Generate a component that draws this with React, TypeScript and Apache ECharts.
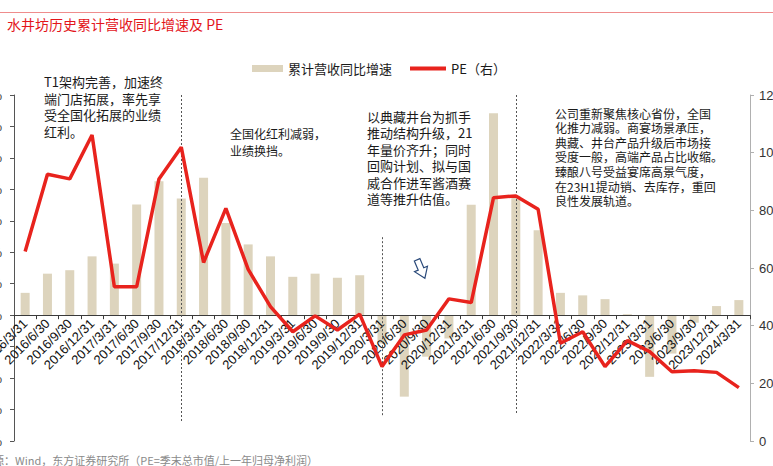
import React, { useEffect, useRef } from "react";
import * as echarts from "echarts";

const categories = [
  "2016/3/31", "2016/6/30", "2016/9/30", "2016/12/31",
  "2017/3/31", "2017/6/30", "2017/9/30", "2017/12/31",
  "2018/3/31", "2018/6/30", "2018/9/30", "2018/12/31",
  "2019/3/31", "2019/6/30", "2019/9/30", "2019/12/31",
  "2020/3/31", "2020/6/30", "2020/9/30", "2020/12/31",
  "2021/3/31", "2021/6/30", "2021/9/30", "2021/12/31",
  "2022/3/31", "2022/6/30", "2022/9/30", "2022/12/31",
  "2023/3/31", "2023/6/30", "2023/9/30", "2023/12/31",
  "2024/3/31",
];

const revenueGrowth = [
  7.1, 13.2, 14.3, 18.7,
  16.4, 35.2, 42.6, 37.1,
  43.7, 29.3, 22.5, 18.7,
  12.2, 13.2, 11.9, 12.7,
  -9.0, -25.9, -13.2, -7.4,
  35.1, 64.2, 38.0, 27.0,
  7.1, 6.3, 5.1, 0.3,
  -19.6, -12.2, -2.4, 2.9,
  4.8,
];

const peValues = [
  65.7, 92.5, 90.9, 106.1,
  53.5, 53.5, 90.9, 101.9,
  61.9, 80.7, 59.5, 46.6,
  37.9, 43.4, 38.5, 44.0,
  25.8, 36.8, 38.5, 49.3,
  48.0, 84.4, 85.0, 80.4,
  33.9, 37.9, 25.8, 34.8,
  31.0, 24.0, 24.4, 23.8,
  18.5,
];

const leftMin = -40;
const leftMax = 70;

// dotted divider lines: [category, top value, bottom value] on the left axis
const dividers: [string, number, number][] = [
  ["2017/12/31", 70, -34],
  ["2020/3/31", 24.8, -32.4],
  ["2021/9/30", 70, -31.7],
];

const seriesNames = ["累计营收同比增速", "PE（右）"];

const titleText = "水井坊历史累计营收同比增速及 PE";
const sourceText = "资料来源：Wind，东方证券研究所（PE=季末总市值/上一年归母净利润）";

const note1 = ["T1架构完善，加速终", "端门店拓展，率先享", "受全国化拓展的业绩", "红利。"];
const note2 = ["全国化红利减弱，", "业绩换挡。"];
const note3 = [
  "以典藏井台为抓手",
  "推动结构升级，21",
  "年量价齐升；同时",
  "回购计划、拟与国",
  "威合作进军酱酒赛",
  "道等推升估值。",
];
const note4 = [
  "公司重新聚焦核心省份，全国",
  "化推力减弱。商宴场景承压，",
  "典藏、井台产品升级后市场接",
  "受度一般，高端产品占比收缩。",
  "臻酿八号受益宴席高景气度，",
  "在23H1提动销、去库存，重回",
  "良性发展轨道。",
];

const CJK = "'Noto Sans CJK SC', 'Noto Sans', sans-serif";
const LATIN = "'Liberation Sans', Arial, sans-serif";

const GRID_TOP = 95;
const GRID_BOTTOM = 25;
const HEIGHT = 466;

export default function App() {
  const ref = useRef<HTMLDivElement>(null);

  useEffect(() => {
    if (!ref.current) return;
    const chart = echarts.init(ref.current, undefined, { renderer: "svg" });

    const gridH = HEIGHT - GRID_TOP - GRID_BOTTOM;
    // move the category axis (line, ticks, labels) up onto the left axis' zero
    const zeroOffset = -(gridH * (0 - leftMin)) / (leftMax - leftMin);

    const noteText = (lines: string[], x: number, y: number, size: number, lh: number) => ({
      type: "text",
      x,
      y,
      z: 100,
      style: {
        text: lines.join("\n"),
        fontFamily: CJK,
        fontSize: size,
        lineHeight: lh,
        fill: "#1a1a1a",
        textVerticalAlign: "top",
        textAlign: "left",
      },
    });

    const option: any = {
      animation: false,
      backgroundColor: "#ffffff",
      grid: {
        left: 14,
        right: 23,
        top: GRID_TOP,
        bottom: GRID_BOTTOM,
        containLabel: false,
        outerBoundsMode: "none",
      },
      legend: [
        {
          data: [{ name: seriesNames[0], icon: "rect" }],
          left: 247,
          top: 57,
          itemWidth: 31,
          itemHeight: 7,
          textStyle: { fontFamily: CJK, fontSize: 13, color: "#1a1a1a" },
        },
        {
          data: [{ name: seriesNames[1], icon: "rect" }],
          left: 405,
          top: 57,
          itemWidth: 36,
          itemHeight: 4,
          textStyle: { fontFamily: CJK, fontSize: 13, color: "#1a1a1a" },
        },
      ],
      xAxis: {
        type: "category",
        data: categories,
        boundaryGap: true,
        position: "bottom",
        offset: zeroOffset,
        axisLine: { onZero: false, lineStyle: { color: "#3a3a3a", width: 1 } },
        axisTick: { show: true, length: 4, lineStyle: { color: "#3a3a3a" } },
        axisLabel: {
          interval: 0,
          rotate: 45,
          fontSize: 13,
          color: "#111",
          fontFamily: LATIN,
          margin: 6,
          hideOverlap: false,
        },
        splitLine: { show: false },
        z: 3,
      },
      yAxis: [
        {
          type: "value",
          min: leftMin,
          max: leftMax,
          interval: 10,
          axisLine: { show: true, lineStyle: { color: "#555" } },
          axisTick: { show: true, length: 4, lineStyle: { color: "#555" } },
          axisLabel: { formatter: "{value}%", margin: 12, fontSize: 13, color: "#333", fontFamily: LATIN },
          splitLine: { show: false },
        },
        {
          type: "value",
          min: 0,
          max: 120,
          interval: 20,
          position: "right",
          axisLine: { show: true, lineStyle: { color: "#b0b0b0" } },
          axisTick: { show: true, length: 4, lineStyle: { color: "#b0b0b0" } },
          axisLabel: { margin: 9, fontSize: 13, color: "#333", fontFamily: LATIN },
          splitLine: { show: false },
        },
      ],
      series: [
        {
          name: seriesNames[0],
          type: "bar",
          yAxisIndex: 0,
          data: revenueGrowth,
          barWidth: 9,
          itemStyle: { color: "#ddd4bd" },
          z: 1,
          markLine: {
            silent: true,
            symbol: ["none", "none"],
            label: { show: false },
            lineStyle: { color: "#555", type: [2, 2], width: 1 },
            data: dividers.map(([c, top, bottom]) => [
              { coord: [c, top] },
              { coord: [c, bottom] },
            ]),
          },
        },
        {
          name: seriesNames[1],
          type: "line",
          yAxisIndex: 1,
          data: peValues,
          symbol: "none",
          lineStyle: { color: "#e8231d", width: 3.5 },
          itemStyle: { color: "#e8231d" },
          z: 6,
        },
      ],
      graphic: [
        {
          type: "line",
          shape: { x1: 0, y1: 12.5, x2: 773, y2: 12.5 },
          style: { stroke: "#ef8c8c", lineWidth: 1 },
        },
        {
          type: "text",
          x: 7,
          y: 24,
          style: {
            text: titleText,
            fontFamily: CJK,
            fontSize: 14,
            fill: "#e3161b",
            textVerticalAlign: "middle",
          },
        },
        noteText(note1, 44, 73.5, 13, 16.5),
        noteText(note2, 230, 125, 12, 17),
        noteText(note3, 367, 107.7, 13, 16.6),
        noteText(note4, 555, 105.8, 12, 14.6),
        {
          type: "polygon",
          x: 421,
          y: 269,
          rotation: 0.4,
          shape: {
            points: [
              [-3, -10], [3, -10], [3, 0], [7, 0], [0, 10], [-7, 0], [-3, 0],
            ],
          },
          style: { fill: "#ffffff", stroke: "#2b4a7a", lineWidth: 1.2 },
          z: 100,
        },
        {
          type: "text",
          x: -40,
          y: 460,
          style: {
            text: sourceText,
            fontFamily: CJK,
            fontSize: 11,
            fill: "#8a8a8a",
            textVerticalAlign: "middle",
          },
        },
      ],
    };

    chart.setOption(option);
    return () => chart.dispose();
  }, []);

  return (
    <div
      ref={ref}
      style={{ position: "fixed", left: 0, top: 0, width: 773, height: 466, background: "#fff" }}
    />
  );
}
